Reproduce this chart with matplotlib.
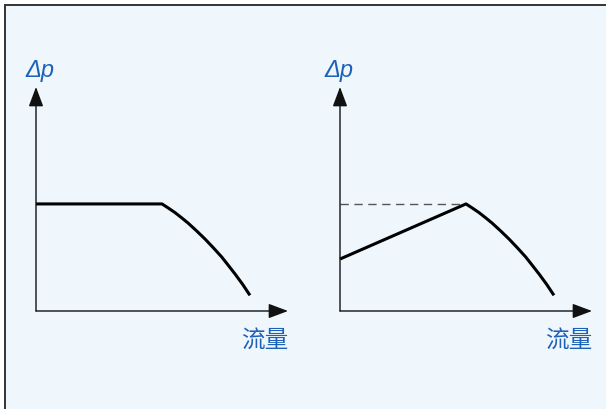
import matplotlib.pyplot as plt
from matplotlib.patches import Rectangle

# flow / pressure-drop curves in arbitrary units (axes run 0..10)
flow_flat = [0.0, 5.0]
dp_flat = [4.78, 4.78]

flow_curve = [5.0, 5.26, 5.52, 5.78, 6.04, 6.37, 6.71, 7.04, 7.37, 7.63,
              7.90, 8.20, 8.49]
dp_curve = [4.78, 4.59, 4.39, 4.16, 3.92, 3.58, 3.21, 2.82, 2.41, 2.04,
            1.65, 1.19, 0.70]

flow_rise = [0.0, 5.0]
dp_rise = [2.32, 4.78]

x_label = '流量'
y_label = 'Δp'

text_color = '#1e62b8'
bg_color = '#eff7fd'

W, H = 606, 410
fig = plt.figure(figsize=(W / 100, H / 100), dpi=100)
fig.patch.set_facecolor('white')

# background panel with a border on the top and left only
bg = fig.add_axes([0, 0, 1, 1], zorder=-1)
bg.set_xlim(0, W)
bg.set_ylim(H, 0)
bg.set_axis_off()
bg.add_patch(Rectangle((5, 6), W + 20, H + 20, facecolor=bg_color,
                       edgecolor='#333333', lw=1.4))


def make_axes(x0, label_dx):
    ax = fig.add_axes([x0 / W, (H - 312) / H, 252 / W, 224 / H])
    ax.set_xlim(0, 10)
    ax.set_ylim(0, 10)
    ax.set_axis_off()
    arrow = dict(arrowstyle='-|>,head_length=1.2,head_width=0.45',
                 lw=1.0, color='#111111', shrinkA=0, shrinkB=0)
    ax.annotate('', xy=(1, 0), xytext=(0, 0), xycoords='axes fraction',
                arrowprops=arrow)
    ax.annotate('', xy=(0, 1), xytext=(0, 0), xycoords='axes fraction',
                arrowprops=arrow)
    ax.text(label_dx, 1.08, y_label, transform=ax.transAxes, ha='left',
            va='center', color=text_color, fontsize=17, style='italic',
            family='Liberation Sans')
    ax.text(1.0, -0.13, x_label, transform=ax.transAxes, ha='right',
            va='center', color=text_color, fontsize=17,
            family=['Noto Sans CJK SC', 'DejaVu Sans'])
    return ax


line_kw = dict(color='black', lw=2.2, solid_joinstyle='round',
               solid_capstyle='butt', clip_on=False)

ax1 = make_axes(36, -0.04)
ax1.plot(flow_flat + flow_curve[1:], dp_flat + dp_curve[1:], **line_kw)

ax2 = make_axes(340, -0.06)
ax2.plot(flow_flat, dp_flat, color='#555555', lw=1.0, dashes=(6, 4),
         clip_on=False)
ax2.plot(flow_rise + flow_curve[1:], dp_rise + dp_curve[1:], **line_kw)

fig.savefig('out.png', dpi=100)
